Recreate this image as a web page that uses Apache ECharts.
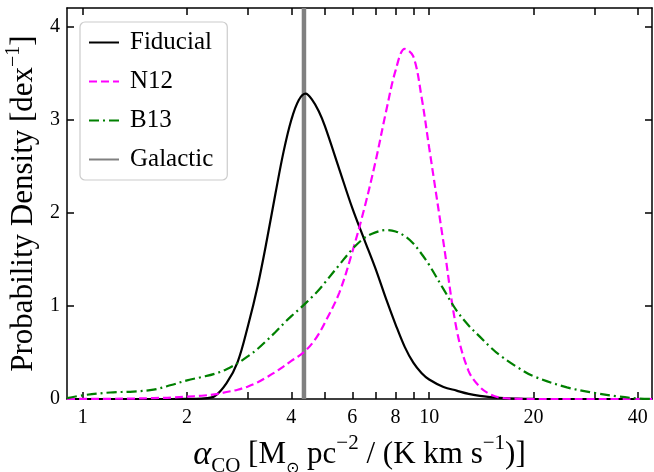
<!DOCTYPE html>
<html><head><meta charset="utf-8">
<script src="https://cdn.jsdelivr.net/npm/echarts@6/dist/echarts.min.js"></script>
<style>html,body{margin:0;padding:0;background:#fff}#c{width:654px;height:472px}</style>
</head><body><div id="c"></div><script>
const alphaGrid = [0.9,1,1.2,1.4,1.6,1.8,2,2.2,2.4,2.6,2.8,3,3.2,3.4,3.6,3.8,4,4.2,4.4,4.6,4.8,5,5.5,6,6.5,7,7.5,8,8.5,9,9.5,10,11,12,13,14,15,16,18,20,25,30,35,40,44];
const fiducial = [0,0,0,0,0,0,0.001, 0.005,0.03,0.17,0.40,0.79, 1.22,1.71,2.21,2.66,3.00, 3.21,3.28,3.21,3.09,2.93, 2.47,2.05,1.71,1.40,1.08, 0.80,0.56,0.39,0.28,0.21, 0.13,0.09,0.055,0.033,0.02, 0.012,0.004,0.001,0,0, 0,0,0];
const n12 = [0,0.001,0.002,0.005,0.01,0.015,0.025, 0.035,0.05,0.075,0.10,0.135, 0.18,0.235,0.29,0.35,0.41, 0.46,0.52,0.60,0.70,0.82, 1.14,1.58,2.05,2.55,3.08, 3.53,3.76,3.68,3.25,2.70, 1.68,0.75,0.30,0.13,0.05, 0.015,0.002,0,0,0, 0,0,0];
const b13 = [0.01,0.04,0.07,0.08,0.10,0.15,0.20, 0.235,0.27,0.32,0.385,0.46, 0.54,0.63,0.72,0.81,0.89, 0.96,1.03,1.10,1.17,1.25, 1.44,1.61,1.73,1.79,1.815, 1.80,1.75,1.67,1.56,1.44, 1.18,0.95,0.79,0.67,0.56, 0.47,0.34,0.245,0.125,0.065, 0.028,0.006,0];
const galacticAlpha = 4.35;
const xTickValues = [1,2,3,4,5,6,7,8,9,10,20,30,40];
const xLabelValues = [1,2,4,6,8,10,20,40];
const yTickValues = [0,1,2,3,4];
const xMin = 0.9, xMax = 44, yMin = 0, yMax = 4.2;

const FONT = 'Liberation Serif';
const pairs = vals => alphaGrid.map((a, i) => [a, vals[i]]);

const chart = echarts.init(document.getElementById('c'), null, {renderer: 'canvas'});

const axisLineStyle = {color: '#000', width: 1.5};
const xBase = (pos, showLabel) => ({
  type: 'log', logBase: 10, min: xMin, max: xMax, position: pos, gridIndex: 0,
  axisLine: {show: true, onZero: false, lineStyle: axisLineStyle},
  axisTick: {show: true, inside: true, length: 7, customValues: xTickValues, lineStyle: {color: '#000', width: 1.5}},
  axisLabel: {show: showLabel, customValues: xLabelValues, fontFamily: FONT, fontSize: 20, color: '#000', margin: 9,
    formatter: v => String(Math.round(v * 100) / 100)},
  splitLine: {show: false}, minorTick: {show: false}, minorSplitLine: {show: false}
});
const yBase = (pos, showLabel) => ({
  type: 'value', min: yMin, max: yMax, position: pos, gridIndex: 0,
  axisLine: {show: true, onZero: false, lineStyle: axisLineStyle},
  axisTick: {show: true, inside: true, length: 7, customValues: yTickValues, lineStyle: {color: '#000', width: 1.5}},
  axisLabel: {show: showLabel, customValues: yTickValues, fontFamily: FONT, fontSize: 20, color: '#000', margin: 7},
  splitLine: {show: false}
});

const xMain = xBase('bottom', true);
xMain.name = '{a|α}{co|CO}{t| [M}{sun|⊙}{t| pc}{sup|−2}{t| / (K km s}{sup|−1}{t|)]}';
xMain.nameLocation = 'middle';
xMain.nameGap = 31;
xMain.nameTextStyle = {
  fontFamily: FONT, fontSize: 31, color: '#000',
  rich: {
    a: {fontFamily: FONT, fontStyle: 'italic', fontSize: 34, color: '#000', lineHeight: 44},
    t: {fontFamily: FONT, fontSize: 31, color: '#000', lineHeight: 44},
    co: {fontFamily: FONT, fontSize: 21, color: '#000', lineHeight: 30, verticalAlign: 'bottom'},
    sun: {fontFamily: 'DejaVu Sans', fontSize: 16, color: '#000', lineHeight: 18, verticalAlign: 'bottom'},
    sup: {fontFamily: FONT, fontSize: 21, color: '#000', lineHeight: 14, verticalAlign: 'top'}
  }
};
const yMain = yBase('left', true);
yMain.name = '{t|Probability Density [dex}{sup|−1}{t|]}';
yMain.nameLocation = 'middle';
yMain.nameGap = 21;
yMain.nameTextStyle = {
  fontFamily: FONT, fontSize: 31, color: '#000',
  rich: {
    t: {fontFamily: FONT, fontSize: 31, color: '#000', lineHeight: 40},
    sup: {fontFamily: FONT, fontSize: 20, color: '#000', lineHeight: 12, verticalAlign: 'top'}
  }
};

const lineSeries = (name, vals, color, type, z) => ({
  name, type: 'line', data: pairs(vals), xAxisIndex: 0, yAxisIndex: 0,
  showSymbol: false, symbol: 'none', smooth: 0.35, z,
  lineStyle: {color, width: 2.2, type}, itemStyle: {color}
});

chart.setOption({
  animation: false,
  backgroundColor: '#fff',
  grid: {left: 67, right: 2, top: 8, bottom: 73, containLabel: false, outerBoundsMode: 'none'},
  xAxis: [xMain, xBase('top', false)],
  yAxis: [yMain, yBase('right', false)],
  legend: {
    orient: 'vertical', left: 80, top: 22,
    backgroundColor: '#fff', borderColor: '#cccccc', borderWidth: 1.2, borderRadius: 5,
    padding: [8, 14, 8, 8], itemWidth: 30, itemHeight: 14, itemGap: 14,
    itemStyle: {opacity: 0},
    textStyle: {fontFamily: FONT, fontSize: 25, color: '#000', padding: [0, 0, 0, 6]},
    data: ['Fiducial', 'N12', 'B13', 'Galactic']
  },
  series: [
    {name: 'Galactic', type: 'line', data: [[galacticAlpha, yMin], [galacticAlpha, yMax]],
     showSymbol: false, symbol: 'none', z: 1,
     lineStyle: {color: '#808080', width: 4.5}, itemStyle: {color: '#808080'}},
    lineSeries('Fiducial', fiducial, '#000000', 'solid', 3),
    lineSeries('N12', n12, '#ff00ff', [8, 4], 3),
    lineSeries('B13', b13, '#008000', [10, 4, 2, 4], 3)
  ]
});
</script></body></html>
